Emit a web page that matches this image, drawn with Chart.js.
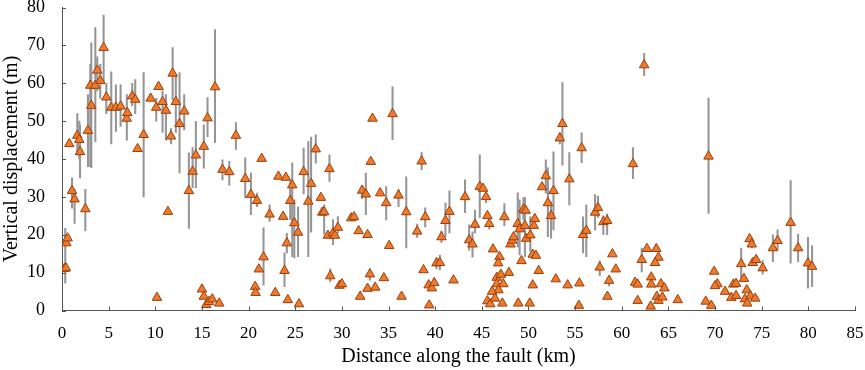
<!DOCTYPE html>
<html>
<head>
<meta charset="utf-8">
<script src="https://cdn.jsdelivr.net/npm/chart.js@4.4.1/dist/chart.umd.min.js"></script>
<style>
  html, body { margin: 0; padding: 0; background: #ffffff; }
  #wrap { width: 865px; height: 370px; position: relative; }
</style>
</head>
<body>
<div id="wrap"><canvas id="c" width="865" height="370"></canvas></div>
<script>
// ---- data ----
const distanceKm = [
  0.25,0.42,0.46,0.6,0.78,1.07,1.35,1.64,1.85,1.93,2.5,2.78,3.03,3.14,3.57,3.78,4.1,4.46,4.75,5.28,
  5.78,6.28,6.93,7.0,7.53,7.85,8.1,8.75,9.5,10.1,10.18,10.35,10.78,11.14,11.35,11.68,11.86,12.2,12.6,13.1,
  13.6,14.0,14.35,15.2,15.6,16.4,15.0,15.2,15.46,15.75,16.1,16.85,17.2,17.93,18.64,19.64,20.25,20.9,21.4,22.25,
  21.6,21.1,20.7,20.75,22.86,23.2,24.0,23.7,24.1,23.85,24.2,24.68,24.46,24.9,25.3,25.4,25.9,26.7,26.4,27.2,
  27.75,27.9,28.1,28.67,28.5,29.05,29.25,29.57,28.75,29.75,30.0,31.0,31.3,31.8,31.96,32.17,32.57,32.75,33.0,32.75,
  33.57,33.1,33.28,34.1,34.75,35.07,34.5,35.43,36.07,36.4,36.9,38.07,38.55,38.93,38.75,39.3,39.64,39.9,39.36,40.14,
  40.5,40.67,41.1,41.53,41.96,43.2,43.64,44.0,44.27,44.78,45.13,45.45,45.6,45.8,46.2,46.9,46.75,46.6,47.05,46.6,
  47.3,46.78,46.1,45.6,45.9,46.4,47.2,47.42,47.9,48.07,48.25,48.4,48.85,49.05,48.9,49.25,49.46,49.7,49.62,49.75,
  50.14,50.2,50.46,50.8,50.57,50.68,50.46,51.1,51.45,51.86,52.08,52.42,52.68,52.93,53.36,53.64,54.38,54.2,55.46,55.4,
  55.7,55.85,56.2,57.14,57.45,57.64,58.03,58.43,58.64,58.46,59.0,59.36,61.2,62.4,61.43,61.7,61.7,62.14,62.7,63.16,
  63.16,63.1,63.7,63.93,63.57,64.2,64.57,63.75,63.93,64.36,66.0,69.3,69.0,69.6,69.9,70.25,70.0,71.07,71.75,71.96,
  72.25,72.25,72.8,73.1,73.4,73.2,73.45,73.8,74.3,73.7,73.93,74.04,74.4,75.1,76.2,76.7,78.1,78.9,79.96,80.4
];
const displacementM = [
  11.0,11.2,17.8,19.1,44.0,31.6,29.4,46.2,45.1,41.9,26.8,47.5,59.4,54.1,59.4,63.4,60.7,69.4,56.3,53.6,
  53.6,53.9,50.7,52.2,56.6,55.7,42.7,46.4,56.0,53.6,3.4,59.1,55.1,52.8,26.1,46.0,62.6,55.1,49.3,52.6,
  31.6,36.7,41.0,43.3,50.8,59.0,5.6,3.7,1.5,2.3,3.0,1.9,37.2,36.6,46.2,34.8,30.6,29.0,40.1,25.4,
  14.1,10.9,6.3,4.7,4.7,35.4,35.1,24.8,17.8,10.5,2.8,33.1,29.0,23.1,20.6,1.7,36.6,33.5,28.8,42.6,
  29.8,25.9,26.0,37.4,19.8,20.4,19.8,21.9,9.1,6.6,7.0,24.4,24.7,21.0,3.7,31.7,30.7,20.0,9.6,5.8,
  6.1,39.3,50.7,31.0,28.4,17.1,8.6,51.9,30.4,3.7,26.0,20.9,39.4,24.7,10.7,6.7,5.9,7.3,1.4,12.5,
  12.6,19.4,23.7,26.1,8.0,30.0,18.6,17.5,22.7,32.7,32.2,30.0,25.0,22.9,16.2,14.2,12.5,8.7,9.5,7.0,
  7.0,5.4,5.0,2.5,1.7,3.2,1.9,24.7,10.0,17.5,18.5,19.4,22.9,21.5,1.9,13.1,26.7,26.4,22.4,19.0,
  1.9,19.9,14.8,14.5,22.4,24.2,6.7,10.5,32.6,35.5,28.4,25.0,31.6,8.3,45.5,49.3,34.7,6.7,7.2,1.3,
  42.9,20.0,21.1,25.9,27.1,11.4,23.4,23.7,7.9,3.7,14.9,10.9,38.7,64.8,7.4,6.9,2.6,13.4,16.3,8.8,
  6.9,1.1,16.3,14.0,12.6,7.0,5.9,3.7,2.6,3.5,2.8,40.7,2.4,1.3,10.3,7.0,6.5,5.0,3.4,6.9,
  7.1,3.9,12.3,8.4,5.4,3.0,1.9,3.8,3.2,18.9,17.5,12.6,13.4,11.2,16.5,18.4,23.2,16.5,12.5,11.6
];
// error bars: position, lower and upper limit
const errDistance = [
  0.35,1.07,1.35,1.64,1.85,1.93,2.5,2.78,3.03,3.14,3.57,3.78,4.1,4.46,4.75,5.28,5.78,6.28,6.95,7.53,
  7.85,8.75,10.1,10.78,11.14,11.68,11.86,12.2,12.6,13.1,13.6,14.0,14.35,15.2,15.6,16.4,17.2,17.93,18.64,19.64,
  20.25,20.9,22.25,21.6,23.85,24.1,24.68,24.46,24.9,25.3,25.9,26.4,26.7,27.2,28.1,28.67,29.05,29.57,28.75,32.17,
  32.57,33.0,34.75,35.43,36.07,36.9,38.07,38.55,38.93,40.14,40.5,40.67,41.1,41.53,43.2,43.64,44.0,44.27,44.78,45.45,
  45.8,47.42,48.85,49.05,49.46,49.62,50.2,51.86,52.08,52.42,52.68,53.36,53.64,54.38,55.7,55.85,56.2,57.14,57.45,57.64,
  58.03,58.43,58.64,61.2,62.4,62.14,69.3,72.8,73.93,75.1,76.2,76.7,78.1,78.9,79.96,80.4
];
const errLow = [
  7.2,27,23,41,40,35,21,38,38,37.7,44.6,58,56,60,52,44,47.3,48.6,45,54,
  52,30,50,47,45,44,55.6,47,36.3,47.7,21.7,32.4,32.4,37.6,45.9,44.3,34.5,33.1,42.5,29.7,
  25.3,27.4,23.5,6.7,6.3,15.2,14.2,24.0,13.9,14.2,30.8,14.2,20.7,38.9,20.2,34.1,17.4,20.4,7.6,29.5,
  25.3,8,23.9,45.1,27.4,16.5,19.3,37.2,22.1,11,10.7,18,19.5,20.5,25.8,15.9,14.1,20.5,24.5,28.5,
  21.5,22.4,16.8,14.7,23.9,14.2,15.6,31,19.5,19.1,21.3,44,38.4,27.9,39.0,15.2,14.2,21.3,24.6,9.2,
  20,20,6.5,34.8,62.0,10.2,25.6,8.6,16.5,9.6,12.9,16,12.5,12.9,5.9,6.3
];
const errHigh = [
  21.7,35,32,52,50,49,32,57,65,70.7,74.7,67,65,78,60,63,59.6,59.6,57,60,
  61,62.8,56,58,57,48,69.4,62,62.8,57,41.6,43,49.9,49,56.2,74.2,39.8,39.4,49.6,40.3,
  36.3,31,27.9,21.8,15.2,20.4,39.0,34.0,29.2,27.4,42.9,44.6,45.8,46.4,27.9,41.1,24.0,24.8,11,33,
  36.3,11,32.7,59.1,32,35.3,22.8,41.7,27.1,14,14.6,21,28.4,31.6,34.5,22.6,20.8,26.5,41.1,31,
  23.8,28.2,31.1,29.2,29.8,29.8,24.8,39.8,37.7,28.7,41.9,47,60.2,41.7,46.9,24.7,27.9,30.6,30.2,13.1,
  25,25.5,9,43.0,67.9,16.5,56.1,16.5,18.5,13.2,20.0,21.3,34.3,20.2,19.3,17.1
];
const xTicks = [0,5,10,15,20,25,30,35,40,45,50,55,60,65,70,75,80,85];
const yTicks = [0,10,20,30,40,50,60,70,80];

const points = distanceKm.map((d, i) => ({ x: d, y: displacementM[i] }));
const bars = errDistance.map((d, i) => ({ x: d, y: [errLow[i], errHigh[i]] }));

const AXIS = '#555555';
const SERIF = "'Liberation Serif', 'Times New Roman', serif";
Chart.defaults.font.family = SERIF;
Chart.defaults.color = '#000';

const inwardTicks = {
  id: 'inwardTicks',
  afterDraw(chart) {
    const { ctx, chartArea, scales } = chart;
    ctx.save();
    ctx.strokeStyle = AXIS;
    ctx.lineWidth = 1;
    ctx.beginPath();
    scales.x.ticks.forEach(t => {
      const px = Math.round(scales.x.getPixelForValue(t.value)) + 0.5;
      ctx.moveTo(px, chartArea.bottom);
      ctx.lineTo(px, chartArea.bottom - 4);
    });
    scales.y.ticks.forEach(t => {
      const py = Math.round(scales.y.getPixelForValue(t.value)) + 0.5;
      ctx.moveTo(chartArea.left, py);
      ctx.lineTo(chartArea.left + 4, py);
    });
    ctx.stroke();
    ctx.restore();
  }
};

new Chart(document.getElementById('c'), {
  type: 'scatter',
  data: {
    datasets: [
      {
        type: 'scatter',
        label: 'Vertical displacement',
        data: points,
        order: 1,
        pointStyle: 'triangle',
        pointRadius: 5.5,
        pointBackgroundColor: '#EE7B2B',
        pointBorderColor: '#9C3D0C',
        pointBorderWidth: 1
      },
      {
        type: 'bar',
        label: 'Uncertainty',
        data: bars,
        order: 2,
        barThickness: 1.4,
        grouped: false,
        backgroundColor: '#959595',
        borderWidth: 0
      }
    ]
  },
  options: {
    responsive: false,
    animation: false,
    layout: { autoPadding: false, padding: { left: 0, right: 10, top: 7.5, bottom: 0 } },
    plugins: { legend: { display: false }, tooltip: { enabled: false } },
    scales: {
      x: {
        type: 'linear',
        min: 0, max: 85,
        offset: false,
        afterBuildTicks: s => { s.ticks = xTicks.map(v => ({ value: v })); },
        afterFit: s => { s.height = 59.5; s.paddingLeft = 0; s.paddingRight = 0; },
        grid: { display: true, drawOnChartArea: false, drawTicks: false },
        border: { display: true, color: AXIS, width: 1 },
        ticks: { padding: 13, color: '#000', font: { family: SERIF, size: 17 }, maxRotation: 0 },
        title: { display: true, text: 'Distance along the fault (km)', color: '#000',
                 font: { family: SERIF, size: 20 }, padding: { top: 0, bottom: 1 } }
      },
      y: {
        type: 'linear',
        min: 0, max: 80,
        afterBuildTicks: s => { s.ticks = yTicks.map(v => ({ value: v })); },
        afterFit: s => { s.width = 62; s.paddingTop = 0; s.paddingBottom = 0; },
        grid: { display: true, drawOnChartArea: false, drawTicks: false },
        border: { display: true, color: AXIS, width: 1 },
        ticks: { padding: 17, color: '#000', font: { family: SERIF, size: 18 } },
        title: { display: true, text: 'Vertical displacement (m)', color: '#000',
                 font: { family: SERIF, size: 20 }, padding: { top: 0, bottom: 0 } }
      }
    }
  },
  plugins: [inwardTicks]
});
</script>
</body>
</html>
